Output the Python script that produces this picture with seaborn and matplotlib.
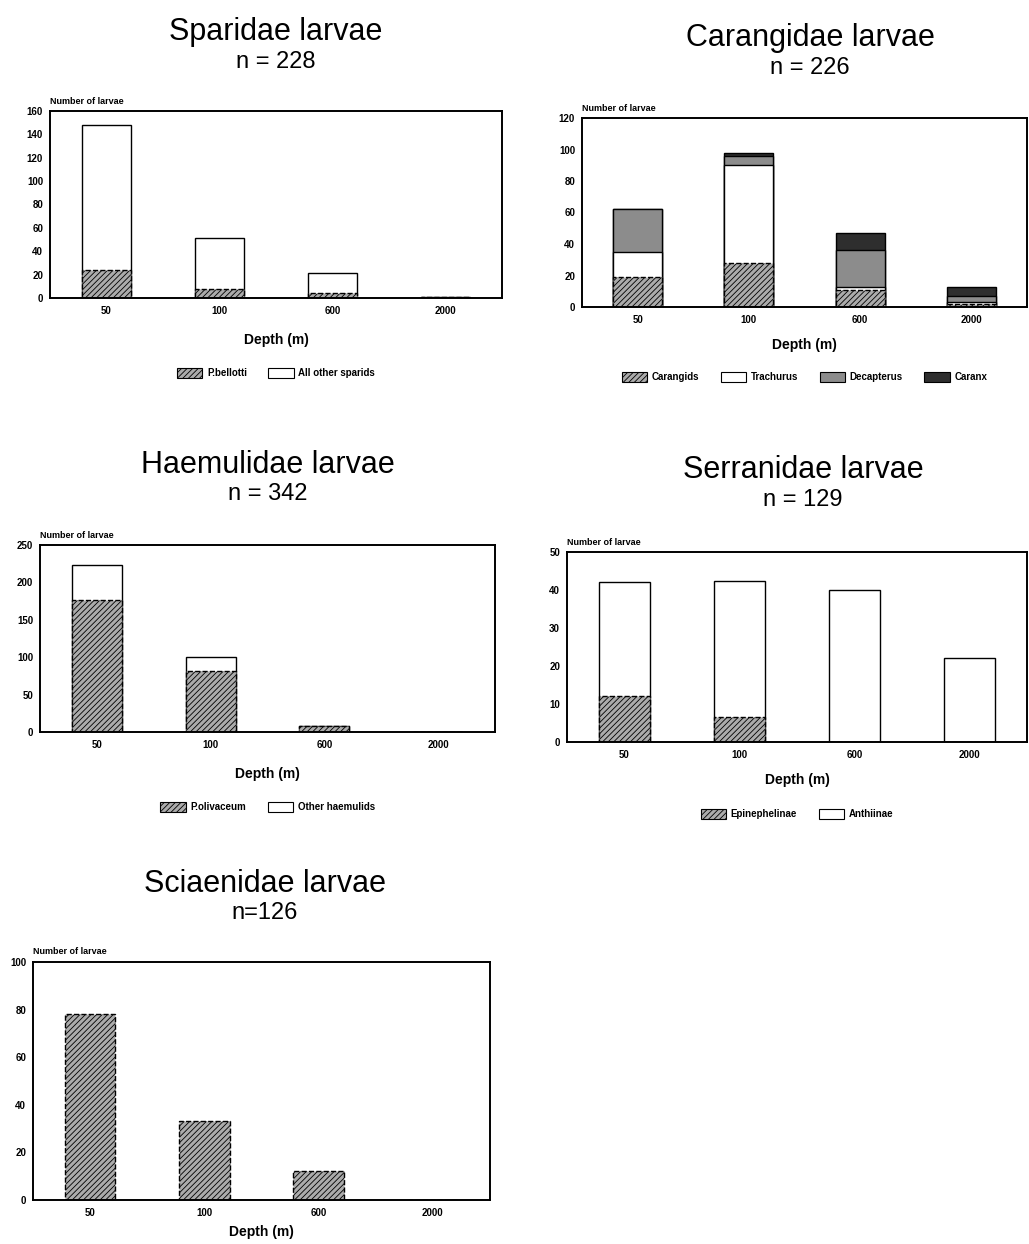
import matplotlib
matplotlib.use('Agg')
import matplotlib.pyplot as plt
from matplotlib.patches import Patch
import seaborn as sns
import numpy as np

sns.set_style('white')
plt.rcParams['font.family'] = ['Liberation Sans', 'DejaVu Sans']
plt.rcParams['text.color'] = 'black'
plt.rcParams['xtick.color'] = 'black'
plt.rcParams['ytick.color'] = 'black'
plt.rcParams['axes.labelcolor'] = 'black'
plt.rcParams['hatch.linewidth'] = 0.6

depths = ['50', '100', '600', '2000']

# Sparidae
sparidae_bellotti = [24, 8, 4, 1]
sparidae_other = [124, 43, 17, 0]

# Carangidae
carangids = [19, 28, 11, 2]
trachurus = [16, 62, 2, 1]
decapterus = [27, 6, 23, 4]
caranx = [0, 2, 11, 6]

# Haemulidae
haem_olivaceum = [176, 82, 8, 0]
haem_other = [47, 18, 0, 0]

# Serranidae
epinephelinae = [12, 6.5, 0, 0]
anthiinae = [30, 36, 40, 22]

# Sciaenidae
sciaenidae = [78, 33, 12, 0]

W, H = 1029, 1244

HATCHED = dict(color='#ababab', hatch='//////', linestyle='--')
WHITE = dict(color='white', hatch=None, linestyle='-')
GREY = dict(color='#8c8c8c', hatch=None, linestyle='-')
DARK = dict(color='#2e2e2e', hatch=None, linestyle='-')


def px_axes(fig, left, right, top, bottom):
    return fig.add_axes([left / W, 1 - bottom / H, (right - left) / W, (bottom - top) / H])


def stacked(ax, series, styles):
    # draw cumulative totals from the top layer down so lower layers overlay
    cum = np.cumsum(np.array(series, dtype=float), axis=0)
    for i in range(len(series) - 1, -1, -1):
        st = styles[i]
        sns.barplot(x=depths, y=cum[i], color=st['color'], hatch=st['hatch'],
                    edgecolor='black', linewidth=1.0, linestyle=st['linestyle'],
                    width=0.44, saturation=1, ax=ax)


def style_axes(ax, ymax, step):
    ax.set_ylim(0, ymax)
    ax.set_xlim(-0.5, 3.5)
    ax.set_yticks(np.arange(0, ymax + 1, step))
    ax.tick_params(axis='y', direction='out', length=3, width=1, labelsize=7, pad=2)
    ax.tick_params(axis='x', length=0, labelsize=7, pad=6)
    for lbl in ax.get_xticklabels() + ax.get_yticklabels():
        lbl.set_fontweight('bold')
    for sp in ax.spines.values():
        sp.set_linewidth(1.4)
        sp.set_color('black')
    ax.set_ylabel('')
    ax.set_xlabel('Depth (m)', fontsize=10, fontweight='bold', labelpad=12)
    ax.text(0.0, 1.025, 'Number of larvae', transform=ax.transAxes,
            fontsize=6.5, fontweight='bold', ha='left', va='bottom')


def add_legend(ax, labels, styles, y):
    handles = [Patch(facecolor=s['color'], edgecolor='black', hatch=s['hatch'],
                     linewidth=0.8) for s in styles]
    ax.legend(handles, labels, loc='center', bbox_to_anchor=(0.5, y), ncol=len(labels),
              frameon=False, prop={'size': 7, 'weight': 'bold'}, handlelength=2.6,
              handleheight=1.2, columnspacing=2.2, handletextpad=0.5)


def titles(fig, x, y1, y2, name, n):
    fig.text(x / W, 1 - y1 / H, name, ha='center', va='center', fontsize=22)
    fig.text(x / W, 1 - y2 / H, n, ha='center', va='center', fontsize=17)


fig = plt.figure(figsize=(W / 100, H / 100), dpi=100)

# Sparidae
ax = px_axes(fig, 50, 502, 111, 298)
stacked(ax, [sparidae_bellotti, sparidae_other], [HATCHED, WHITE])
style_axes(ax, 160, 20)
add_legend(ax, ['P.bellotti', 'All other sparids'], [HATCHED, WHITE], -0.4)
titles(fig, 276, 32, 62, 'Sparidae larvae', 'n = 228')

# Carangidae
ax = px_axes(fig, 582, 1027, 118, 307)
stacked(ax, [carangids, trachurus, decapterus, caranx], [HATCHED, WHITE, GREY, DARK])
style_axes(ax, 120, 20)
ax.xaxis.labelpad = 9
add_legend(ax, ['Carangids', 'Trachurus', 'Decapterus', 'Caranx'],
           [HATCHED, WHITE, GREY, DARK], -0.37)
titles(fig, 810, 38, 68, 'Carangidae larvae', 'n = 226')

# Haemulidae
ax = px_axes(fig, 40, 495, 545, 732)
stacked(ax, [haem_olivaceum, haem_other], [HATCHED, WHITE])
style_axes(ax, 250, 50)
add_legend(ax, ['P.olivaceum', 'Other haemulids'], [HATCHED, WHITE], -0.4)
titles(fig, 268, 465, 494, 'Haemulidae larvae', 'n = 342')

# Serranidae
ax = px_axes(fig, 567, 1027, 552, 742)
stacked(ax, [epinephelinae, anthiinae], [HATCHED, WHITE])
style_axes(ax, 50, 10)
ax.xaxis.labelpad = 9
add_legend(ax, ['Epinephelinae', 'Anthiinae'], [HATCHED, WHITE], -0.38)
titles(fig, 803, 470, 500, 'Serranidae larvae', 'n = 129')

# Sciaenidae
ax = px_axes(fig, 33, 490, 962, 1200)
stacked(ax, [sciaenidae], [HATCHED])
style_axes(ax, 100, 20)
ax.xaxis.labelpad = 5
titles(fig, 265, 884, 913, 'Sciaenidae larvae', 'n=126')

fig.savefig('out.png', dpi=100)
